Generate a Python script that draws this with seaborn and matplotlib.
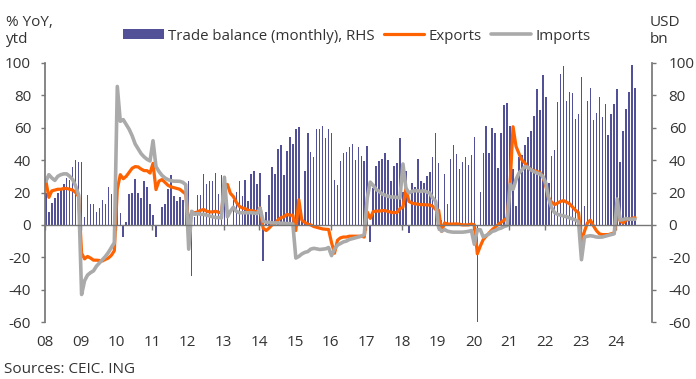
import numpy as np
import pandas as pd
import matplotlib
matplotlib.use('Agg')
import matplotlib.pyplot as plt
import matplotlib.transforms as mtransforms
import seaborn as sns

# 月度数据 2008-01 .. 2024-07
balance = [
    19.5, 8.2, 13.4, 16.9, 20.0, 21.8, 25.5, 28.8, 28.0, 36.0, 40.2, 39.0,   # 2008
    39.0, 5.0, 18.7, 13.2, 13.2, 8.2, 10.3, 15.6, 12.8, 23.7, 19.3, 18.4,   # 2009
    14.2, 7.5, -7.5, 1.5, 19.0, 19.6, 28.2, 19.6, 16.6, 26.8, 23.5, 12.8,   # 2010
    5.8, -7.6, 0.2, 11.3, 13.1, 22.4, 30.6, 18.0, 14.6, 17.4, 15.2, 16.5,   # 2011
    27.3, -31.6, 5.0, 18.7, 18.7, 31.6, 25.5, 26.9, 27.3, 32.2, 19.3, 31.0,  # 2012
    29.2, 15.3, -0.9, 15.6, 20.6, 27.4, 18.1, 28.0, 15.0, 31.7, 33.5, 25.5,  # 2013
    32.3, -22.5, 8.0, 18.7, 36.0, 31.7, 47.1, 49.6, 31.0, 45.9, 54.5, 50.2,  # 2014
    59.5, 60.7, 2.7, 33.5, 57.0, 45.3, 42.2, 59.5, 59.5, 61.3, 53.9, 59.5,   # 2015
    57.0, 28.0, 24.9, 39.7, 44.7, 45.3, 48.4, 50.2, 40.3, 48.4, 42.8, 39.7,  # 2016
    49.0, -10.5, 23.0, 36.5, 39.6, 40.9, 44.6, 40.2, 27.3, 36.5, 38.4, 53.8,  # 2017
    20.3, 33.0, -5.1, 26.0, 23.6, 40.9, 27.3, 26.0, 30.4, 32.8, 42.1, 56.9,  # 2018
    38.4, 3.3, 31.6, 13.1, 40.9, 49.5, 44.0, 34.7, 39.0, 42.1, 37.2, 43.3,   # 2019
    54.4, -59.8, 20.1, 44.6, 61.2, 44.6, 60.0, 56.9, 35.3, 56.9, 74.1, 75.4,  # 2020
    61.2, 34.7, 11.9, 42.0, 43.3, 49.5, 54.4, 58.1, 67.4, 84.0, 71.0, 92.6,  # 2021
    79.0, 26.0, 42.7, 46.4, 76.0, 93.3, 98.2, 76.7, 82.1, 81.5, 65.5, 68.6,  # 2022
    91.4, 11.9, 76.7, 84.6, 64.9, 69.2, 79.0, 66.7, 74.7, 55.6, 68.6, 74.7,  # 2023
    84.0, 39.0, 58.1, 71.7, 82.1, 98.8, 84.6,                                # 2024
]

exports = [
    27, 17, 21, 21.5, 22, 22, 22.5, 22.5, 22, 21.5, 20, 17.5,
    -17.5, -21, -19.5, -20.5, -21.8, -21.8, -22, -22.3, -21.3, -20.5, -18.8, -16,
    22, 31, 28.5, 30, 32.5, 35, 36, 35.8, 34.5, 33.5, 33.5, 32,
    38, 21.8, 27, 28, 26.3, 24.5, 23.5, 23, 22.5, 22, 20.5, 19,
    0, 8, 7.5, 8, 9, 9.5, 8.5, 8, 8, 8.4, 7.8, 7.5,
    24.5, 25, 19.5, 17.5, 14, 11.5, 10.5, 10, 9, 8.8, 8.5, 8,
    10.5, -2, -3.5, -2, 0, 1, 3, 4.5, 5, 6.5, 6, 6,
    -3.5, 15.5, 3, 1.5, 0.5, 0, -1, -1.5, -2, -2.5, -2.7, -2.8,
    -11, -17.5, -9.5, -8, -7.5, -7.5, -7, -7, -7, -7, -7, -7.5,
    8, 4, 8.2, 8.5, 8.5, 8.8, 8.8, 8.3, 7.8, 7.5, 7.7, 10,
    11, 22.5, 14.5, 13.5, 13, 12.8, 12.5, 12.5, 12.3, 12.3, 11.5, 9.5,
    9, -4, 1.2, 0.5, 0.5, 0.5, 0.6, 0.4, 0, 0, 0, 0.5,
    0, -17.9, -13.1, -9, -7, -5, -2.9, -1.4, 0.2, 1.6, 2.9, 4.3,
    25, 60.6, 48.5, 44, 40, 38.2, 35.5, 34, 33.5, 33, 32.4, 30,
    24, 16.5, 14, 12.5, 13.5, 14.5, 15, 14, 13, 11, 9, 7.5,
    -10.5, -4, 1.2, 2.9, -0.5, -3.5, -5.5, -6, -6, -6, -5.5, -5,
    7, 2.5, 1.2, 3, 3.5, 4, 4.5,
]

imports = [
    27, 31, 29, 27.5, 30, 31, 31.5, 31.5, 30, 28, 24, 18.5,
    -43, -34.5, -31, -29.5, -28.4, -25.5, -23.5, -21.5, -19.5, -17, -14, -11,
    85.5, 64, 65, 62, 59, 55, 50, 47, 44, 42, 40.5, 39.5,
    52, 36, 33, 30.6, 29, 28, 27.3, 27, 27, 26.9, 26.3, 24.8,
    -15, 8.4, 6.5, 7, 6.5, 6.5, 6, 5.5, 5, 4.5, 4.5, 4.3,
    29.4, 5, 8.4, 10.9, 8.4, 7.5, 7.5, 7.5, 7.5, 7.5, 7.3, 7,
    10.2, 2.3, 1.6, 1.6, 1.2, 1.2, 1.2, 1.0, 1.0, 0.8, 0.8, 0.5,
    -20.5, -19.5, -18, -17, -16.5, -15, -14.5, -14.8, -15.2, -15, -14.8, -14,
    -19, -15, -12.5, -11.5, -10.5, -10, -9, -8.5, -8, -7.5, -7, -6,
    16.7, 26.4, 24.4, 21.8, 20.7, 19.1, 18.3, 17.7, 17.2, 17.2, 17, 16.6,
    37.6, 22.8, 19.7, 20.7, 21.1, 21.1, 20.7, 21.1, 20.3, 19.7, 16.6, 14.6,
    -1.8, -3.9, -2.9, -3.9, -4.3, -4.5, -4.5, -4.5, -4.5, -4.3, -4, -3.5,
    -12, -3, -3, -7.5, -6.5, -5.5, -4, -3.5, -2.5, -2, -1, -0.5,
    25, 22, 28, 32, 34, 36, 35.5, 34, 33, 32, 31.5, 30,
    26, 16, 10.5, 7.5, 6.5, 6, 5.5, 5, 4.3, 3.7, 3, 2,
    -21.5, -7.5, -7, -6.7, -7, -7.5, -7.6, -7.5, -7, -6.5, -6, -5.5,
    16, 3, 3.3, 3.9, 3.5, 3.5, 3.5,
]

year_labels = ['08', '09', '10', '11', '12', '13', '14', '15', '16',
               '17', '18', '19', '20', '21', '22', '23', '24']
y_ticks = [-60, -40, -20, 0, 20, 40, 60, 80, 100]

df = pd.DataFrame({'month': np.arange(len(balance)) + 0.3,
                   'balance': balance, 'exports': exports, 'imports': imports})

sns.set_theme(style='white')
plt.rcParams['font.family'] = ['Open Sans', 'DejaVu Sans']
plt.rcParams['axes.unicode_minus'] = False
txt = '#333333'
axc = '#777777'

fig = plt.figure(figsize=(6.96, 3.79), dpi=100)
W, H = 696, 379
ax = fig.add_axes([45 / W, 1 - 322 / H, 607 / W, 259 / H])
ax2 = ax.twinx()
ax.set_zorder(ax2.get_zorder() + 1)
ax.patch.set_visible(False)

# 柱状图（右轴）
ax2.bar(df['month'], df['balance'], width=0.52, color='#525096', linewidth=0,
        label='Trade balance (monthly), RHS')

# 折线（左轴）
sns.lineplot(data=df, x='month', y='exports', ax=ax, color='#FF6200', lw=2.3,
             label='Exports', legend=False)
sns.lineplot(data=df, x='month', y='imports', ax=ax, color='#AAAAAA', lw=2.6,
             label='Imports', legend=False)

for a in (ax, ax2):
    a.set_xlim(0, 204)
    a.set_ylim(-60, 100)
    a.set_yticks(y_ticks)
    a.set_xlabel('')
    a.set_ylabel('')
    a.spines['top'].set_visible(False)

ax.spines['bottom'].set_position(('data', 0))
ax.spines['bottom'].set_color(axc)
ax.spines['bottom'].set_linewidth(1)
ax.spines['left'].set_color(axc)
ax.spines['right'].set_visible(False)
ax2.spines['left'].set_visible(False)
ax2.spines['bottom'].set_visible(False)
ax2.spines['right'].set_color(axc)

ax.set_xticks(np.arange(0, 204, 12))
ax.set_xticklabels([])
ax.tick_params(axis='x', direction='out', length=3.5, width=1, color=axc, bottom=True)
ax.tick_params(axis='y', direction='out', length=3, width=1, color=axc, left=True,
               labelsize=11, labelcolor=txt, pad=7)
ax2.tick_params(axis='y', direction='out', length=3, width=1, color=axc, right=True,
                labelsize=11, labelcolor=txt, pad=9)
ax2.tick_params(axis='x', bottom=False, labelbottom=False)

trans = mtransforms.blended_transform_factory(ax.transData, ax.transAxes)
for i, lab in enumerate(year_labels):
    ax.text(i * 12, -20.5 / 259, lab, transform=trans, ha='center', va='center',
            fontsize=11, color=txt)

fig.text(6 / W, 1 - 26 / H, '% YoY,', fontsize=11, color=txt, va='baseline')
fig.text(6 / W, 1 - 43 / H, 'ytd', fontsize=11, color=txt, va='baseline')
fig.text(650 / W, 1 - 26 / H, 'USD', fontsize=11, color=txt, va='baseline')
fig.text(650 / W, 1 - 43 / H, 'bn', fontsize=11, color=txt, va='baseline')
fig.text(4 / W, 1 - 373 / H, 'Sources: CEIC. ING', fontsize=11, color=txt, va='baseline')

h1, l1 = ax2.get_legend_handles_labels()
h2, l2 = ax.get_legend_handles_labels()
fig.legend(h1 + h2, l1 + l2, loc='center left', bbox_to_anchor=(123 / W, 1 - 36 / H),
           ncol=3, frameon=False, fontsize=10.8, handlelength=2.7, handleheight=0.6,
           handletextpad=0.3, columnspacing=0.6, borderaxespad=0, borderpad=0,
           labelcolor=txt)

fig.savefig('out.png', dpi=100)
